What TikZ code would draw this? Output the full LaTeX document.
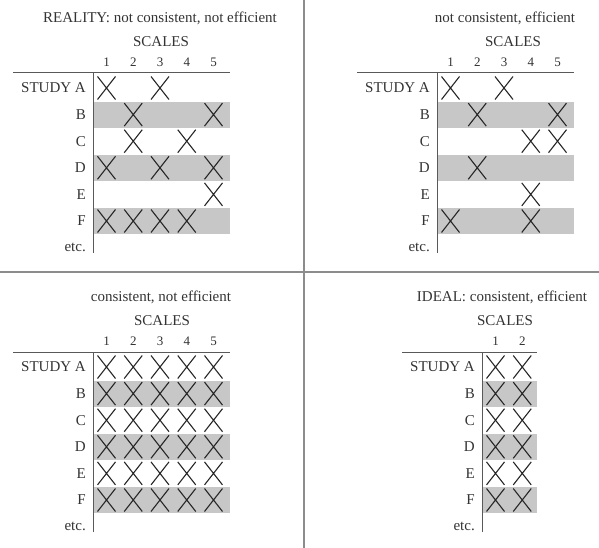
\documentclass[tikz,border=0pt]{standalone}
\usepackage{fontspec}
\setmainfont{Liberation Serif}
\tikzset{
  lbl/.style={font=\fontsize{15}{16}\selectfont, inner sep=0pt, text=black!80},
  numlbl/.style={font=\fontsize{13}{14}\selectfont, inner sep=0pt, text=black!80},
  rowlbl/.style={lbl, anchor=east},
  band/.style={fill=black!22, draw=none},
  tablerule/.style={draw=black!65, line width=1pt},
  xmark/.style={draw=black!85, line width=1.1pt},
  divider/.style={draw=black!45, line width=1.4pt},
}
\newcommand\mypanel[7]{% #1 prefix, #2 shift, #3 title, #4 title x, #5 scales x, #6 ncols, #7 marks r/c
\begin{scope}[shift={(#2)}, name prefix=#1-]
  \pgfmathsetmacro\rgt{93+27.4*#6}
  \foreach \r in {2,4,6}{
    \fill[band] (93,{88+26.6*(\r-1)-13}) rectangle (\rgt,{88+26.6*(\r-1)+13});
  }
  \node[lbl] (title) at (#4,18) {#3};
  \node[lbl] (scales) at (#5,42) {SCALES};
  \foreach \i in {1,...,#6}{
    \node[numlbl] (n\i) at ({106.5+26.75*(\i-1)},62) {\i};
  }
  \coordinate (hl) at (13,73);
  \coordinate (hr) at (\rgt,73);
  \coordinate (vt) at (93,73);
  \coordinate (vb) at (93,253);
  \draw[tablerule] (hl) -- (hr);
  \draw[tablerule] (vt) -- (vb);
  \foreach \lab [count=\r] in {STUDY A,B,C,D,E,F}{
    \node[rowlbl] (row\r) at (86,{88+26.6*(\r-1)}) {\lab};
  }
  \node[rowlbl] (etc) at (86,247) {etc.};
  \foreach \r/\c in {#7}{
    \draw[xmark] ({106.5+26.75*(\c-1)-9},{88+26.6*(\r-1)-11.5}) -- ++(18,23)
                 ({106.5+26.75*(\c-1)-9},{88+26.6*(\r-1)+11.5}) -- ++(18,-23);
  }
\end{scope}}
\begin{document}
\begin{tikzpicture}[x=1pt,y=-1pt]
\useasboundingbox (0,0) rectangle (599,548);
\coordinate (dvt) at (304,0);
\coordinate (dvb) at (304,548);
\coordinate (dhl) at (0,272);
\coordinate (dhr) at (599,272);
\draw[divider] (dvt) -- (dvb);
\draw[divider] (dhl) -- (dhr);
\mypanel{tl}{0,0}{REALITY: not consistent, not efficient}{160}{161}{5}%
  {1/1,1/3,2/2,2/5,3/2,3/4,4/1,4/3,4/5,5/5,6/1,6/2,6/3,6/4}
\mypanel{tr}{344,0}{not consistent, efficient}{161}{169}{5}%
  {1/1,1/3,2/2,2/5,3/4,3/5,4/2,5/4,6/1,6/4}
\mypanel{bl}{0,279}{consistent, not efficient}{161}{162}{5}%
  {1/1,1/2,1/3,1/4,1/5,2/1,2/2,2/3,2/4,2/5,3/1,3/2,3/3,3/4,3/5,4/1,4/2,4/3,4/4,4/5,5/1,5/2,5/3,5/4,5/5,6/1,6/2,6/3,6/4,6/5}
\mypanel{br}{389,279}{IDEAL: consistent, efficient}{113}{116}{2}%
  {1/1,1/2,2/1,2/2,3/1,3/2,4/1,4/2,5/1,5/2,6/1,6/2}
\end{tikzpicture}
\end{document}
